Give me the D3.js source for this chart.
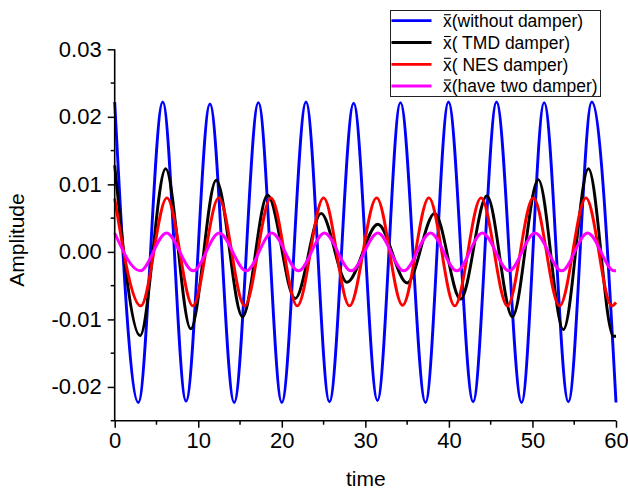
<!DOCTYPE html>
<html>
<head>
<meta charset="utf-8">
<script src="https://cdn.jsdelivr.net/npm/d3@7"></script>
<style>
  html, body { margin: 0; padding: 0; background: #fff; }
  svg { display: block; font-family: "Liberation Sans", Arial, sans-serif; }
</style>
</head>
<body>
<svg id="chart" width="628" height="493"></svg>
<script>
// Response amplitude over time: extrema (time, amplitude) of each response curve
const tWithout = [0, 2.83, 5.75, 8.54, 11.4, 14.3, 17.2, 20.0, 22.9, 25.7, 28.6, 31.45, 34.2, 37.2, 39.95, 42.9, 45.7, 48.7, 51.4, 54.3, 57.1, 60.0];
const xWithout = [0.0222, -0.0223, 0.0222, -0.0221, 0.0219, -0.0223, 0.0221, -0.0223, 0.0222, -0.0222, 0.0220, -0.0220, 0.0221, -0.0223, 0.0222, -0.0222, 0.0222, -0.0223, 0.0221, -0.0222, 0.0222, -0.0223];

const tTMD = [0, 3.04, 6.1, 9.1, 12.15, 15.3, 18.3, 21.6, 24.7, 27.8, 31.5, 35.0, 38.3, 41.4, 44.55, 47.6, 50.7, 53.7, 56.7, 59.7, 60];
const xTMD = [0.0128, -0.0124, 0.0123, -0.0114, 0.0106, -0.0096, 0.0084, -0.0069, 0.0057, -0.0045, 0.0041, -0.0046, 0.0057, -0.0070, 0.0083, -0.0096, 0.0107, -0.0115, 0.0123, -0.0125, -0.0125];

const tNES = [0, 3.12, 6.25, 9.35, 12.45, 15.55, 18.7, 21.85, 25.0, 28.1, 31.35, 34.45, 37.6, 40.7, 43.85, 47.0, 50.1, 53.25, 56.4, 59.5, 60];
const xNES = [0.0079, -0.0080, 0.0080, -0.0080, 0.0080, -0.0080, 0.0080, -0.0080, 0.0080, -0.0080, 0.0080, -0.0079, 0.0080, -0.0080, 0.0080, -0.0080, 0.0080, -0.0080, 0.0080, -0.0080, -0.0075];

const tTwo = [0, 3.05, 6.2, 9.4, 12.5, 15.75, 18.8, 22.0, 25.1, 28.3, 31.5, 34.6, 37.8, 40.95, 44.0, 47.2, 50.3, 53.5, 56.6, 59.8, 60];
const xTwo = [0.0028, -0.0028, 0.0028, -0.0028, 0.0028, -0.0028, 0.0028, -0.0028, 0.0028, -0.0028, 0.0028, -0.0028, 0.0028, -0.0028, 0.0028, -0.0028, 0.0028, -0.0028, 0.0028, -0.0028, -0.0028];

const seriesNames = ["(without damper)", "( TMD damper)", "( NES damper)", "(have two damper)"];
const seriesColors = ["#0000ff", "#000000", "#ff0000", "#ff00ff"];

const xTicks = [0, 10, 20, 30, 40, 50, 60];
const xMinorTicks = [5, 15, 25, 35, 45, 55];
const yTicks = [-0.02, -0.01, 0, 0.01, 0.02, 0.03];
const yTickLabels = ["-0.02", "-0.01", "0.00", "0.01", "0.02", "0.03"];
const yMinorTicks = [-0.025, -0.015, -0.005, 0.005, 0.015, 0.025];

const series = [
  { name: seriesNames[0], color: seriesColors[0], t: tWithout, v: xWithout },
  { name: seriesNames[1], color: seriesColors[1], t: tTMD, v: xTMD },
  { name: seriesNames[2], color: seriesColors[2], t: tNES, v: xNES },
  { name: seriesNames[3], color: seriesColors[3], t: tTwo, v: xTwo }
];

const svg = d3.select("#chart");
const plot = { left: 114.7, right: 616, top: 49.3, bottom: 420.7 };

const x = d3.scaleLinear().domain([0, 60]).range([plot.left, plot.right]);
const y = d3.scaleLinear().domain([-0.025, 0.03]).range([plot.bottom, plot.top]);

const line = d3.line()
  .x(d => x(d[0]))
  .y(d => y(d[1]))
  .curve(d3.curveMonotoneX);

// curves
const curves = svg.append("g");
series.forEach(s => {
  curves.append("path")
    .datum(s.t.map((tt, i) => [tt, s.v[i]]))
    .attr("fill", "none")
    .attr("stroke", s.color)
    .attr("stroke-width", 2.9)
    .attr("stroke-linejoin", "round")
    .attr("d", line);
});

// x axis
const xAxis = svg.append("g")
  .attr("transform", `translate(0,${plot.bottom})`)
  .call(d3.axisBottom(x).tickValues(xTicks).tickSize(7).tickPadding(5).tickFormat(d3.format("d")));
xAxis.append("g").selectAll("line").data(xMinorTicks).join("line")
  .attr("x1", d => x(d)).attr("x2", d => x(d))
  .attr("y1", 0).attr("y2", 4).attr("stroke", "#000").attr("stroke-width", 1.5);

// y axis
const yAxis = svg.append("g")
  .attr("transform", `translate(${plot.left},0)`)
  .call(d3.axisLeft(y).tickValues(yTicks).tickSize(7).tickPadding(6)
    .tickFormat((d, i) => yTickLabels[i]));
yAxis.append("g").selectAll("line").data(yMinorTicks).join("line")
  .attr("y1", d => y(d)).attr("y2", d => y(d))
  .attr("x1", 0).attr("x2", -4).attr("stroke", "#000").attr("stroke-width", 1.5);

[xAxis, yAxis].forEach(g => {
  g.select(".domain").attr("stroke", "#000").attr("stroke-width", 1.6);
  g.selectAll(".tick line").attr("stroke", "#000").attr("stroke-width", 1.5);
  g.selectAll(".tick text")
    .attr("fill", "#000")
    .style("font-family", '"Liberation Sans", Arial, sans-serif')
    .style("font-size", "22px");
});
// keep the axis domain lines straight (no outer tick hooks)
xAxis.select(".domain").attr("d", `M${plot.left},0H${plot.right}`);
yAxis.select(".domain").attr("d", `M0,${plot.bottom}V${plot.top}`);

// axis titles
svg.append("text")
  .attr("x", (plot.left + plot.right) / 2 + 0.5)
  .attr("y", 486)
  .attr("text-anchor", "middle")
  .style("font-size", "21px")
  .text("time");

svg.append("text")
  .attr("transform", "translate(24,240) rotate(-90)")
  .attr("text-anchor", "middle")
  .style("font-size", "21px")
  .text("Amplitude");

// legend
const legend = svg.append("g");
legend.append("rect")
  .attr("x", 390.5).attr("y", 10.5)
  .attr("width", 210).attr("height", 86)
  .attr("fill", "#fff").attr("stroke", "#222").attr("stroke-width", 1);

const rowY = [20.7, 42.5, 64.3, 86];
series.forEach((s, i) => {
  const cy = rowY[i];
  legend.append("line")
    .attr("x1", 391.5).attr("x2", 431.5)
    .attr("y1", cy).attr("y2", cy)
    .attr("stroke", s.color).attr("stroke-width", 2.8);
  const txt = legend.append("text")
    .attr("x", 443).attr("y", cy + 6.2)
    .style("font-size", "17.5px")
    .text("x" + s.name);
  const w = txt.node().getSubStringLength(0, 1);
  legend.append("line")
    .attr("x1", 443 + 1).attr("x2", 443 + w - 1)
    .attr("y1", cy + 6.2 - 12.2).attr("y2", cy + 6.2 - 12.2)
    .attr("stroke", "#000").attr("stroke-width", 1.1);
});
</script>
</body>
</html>
